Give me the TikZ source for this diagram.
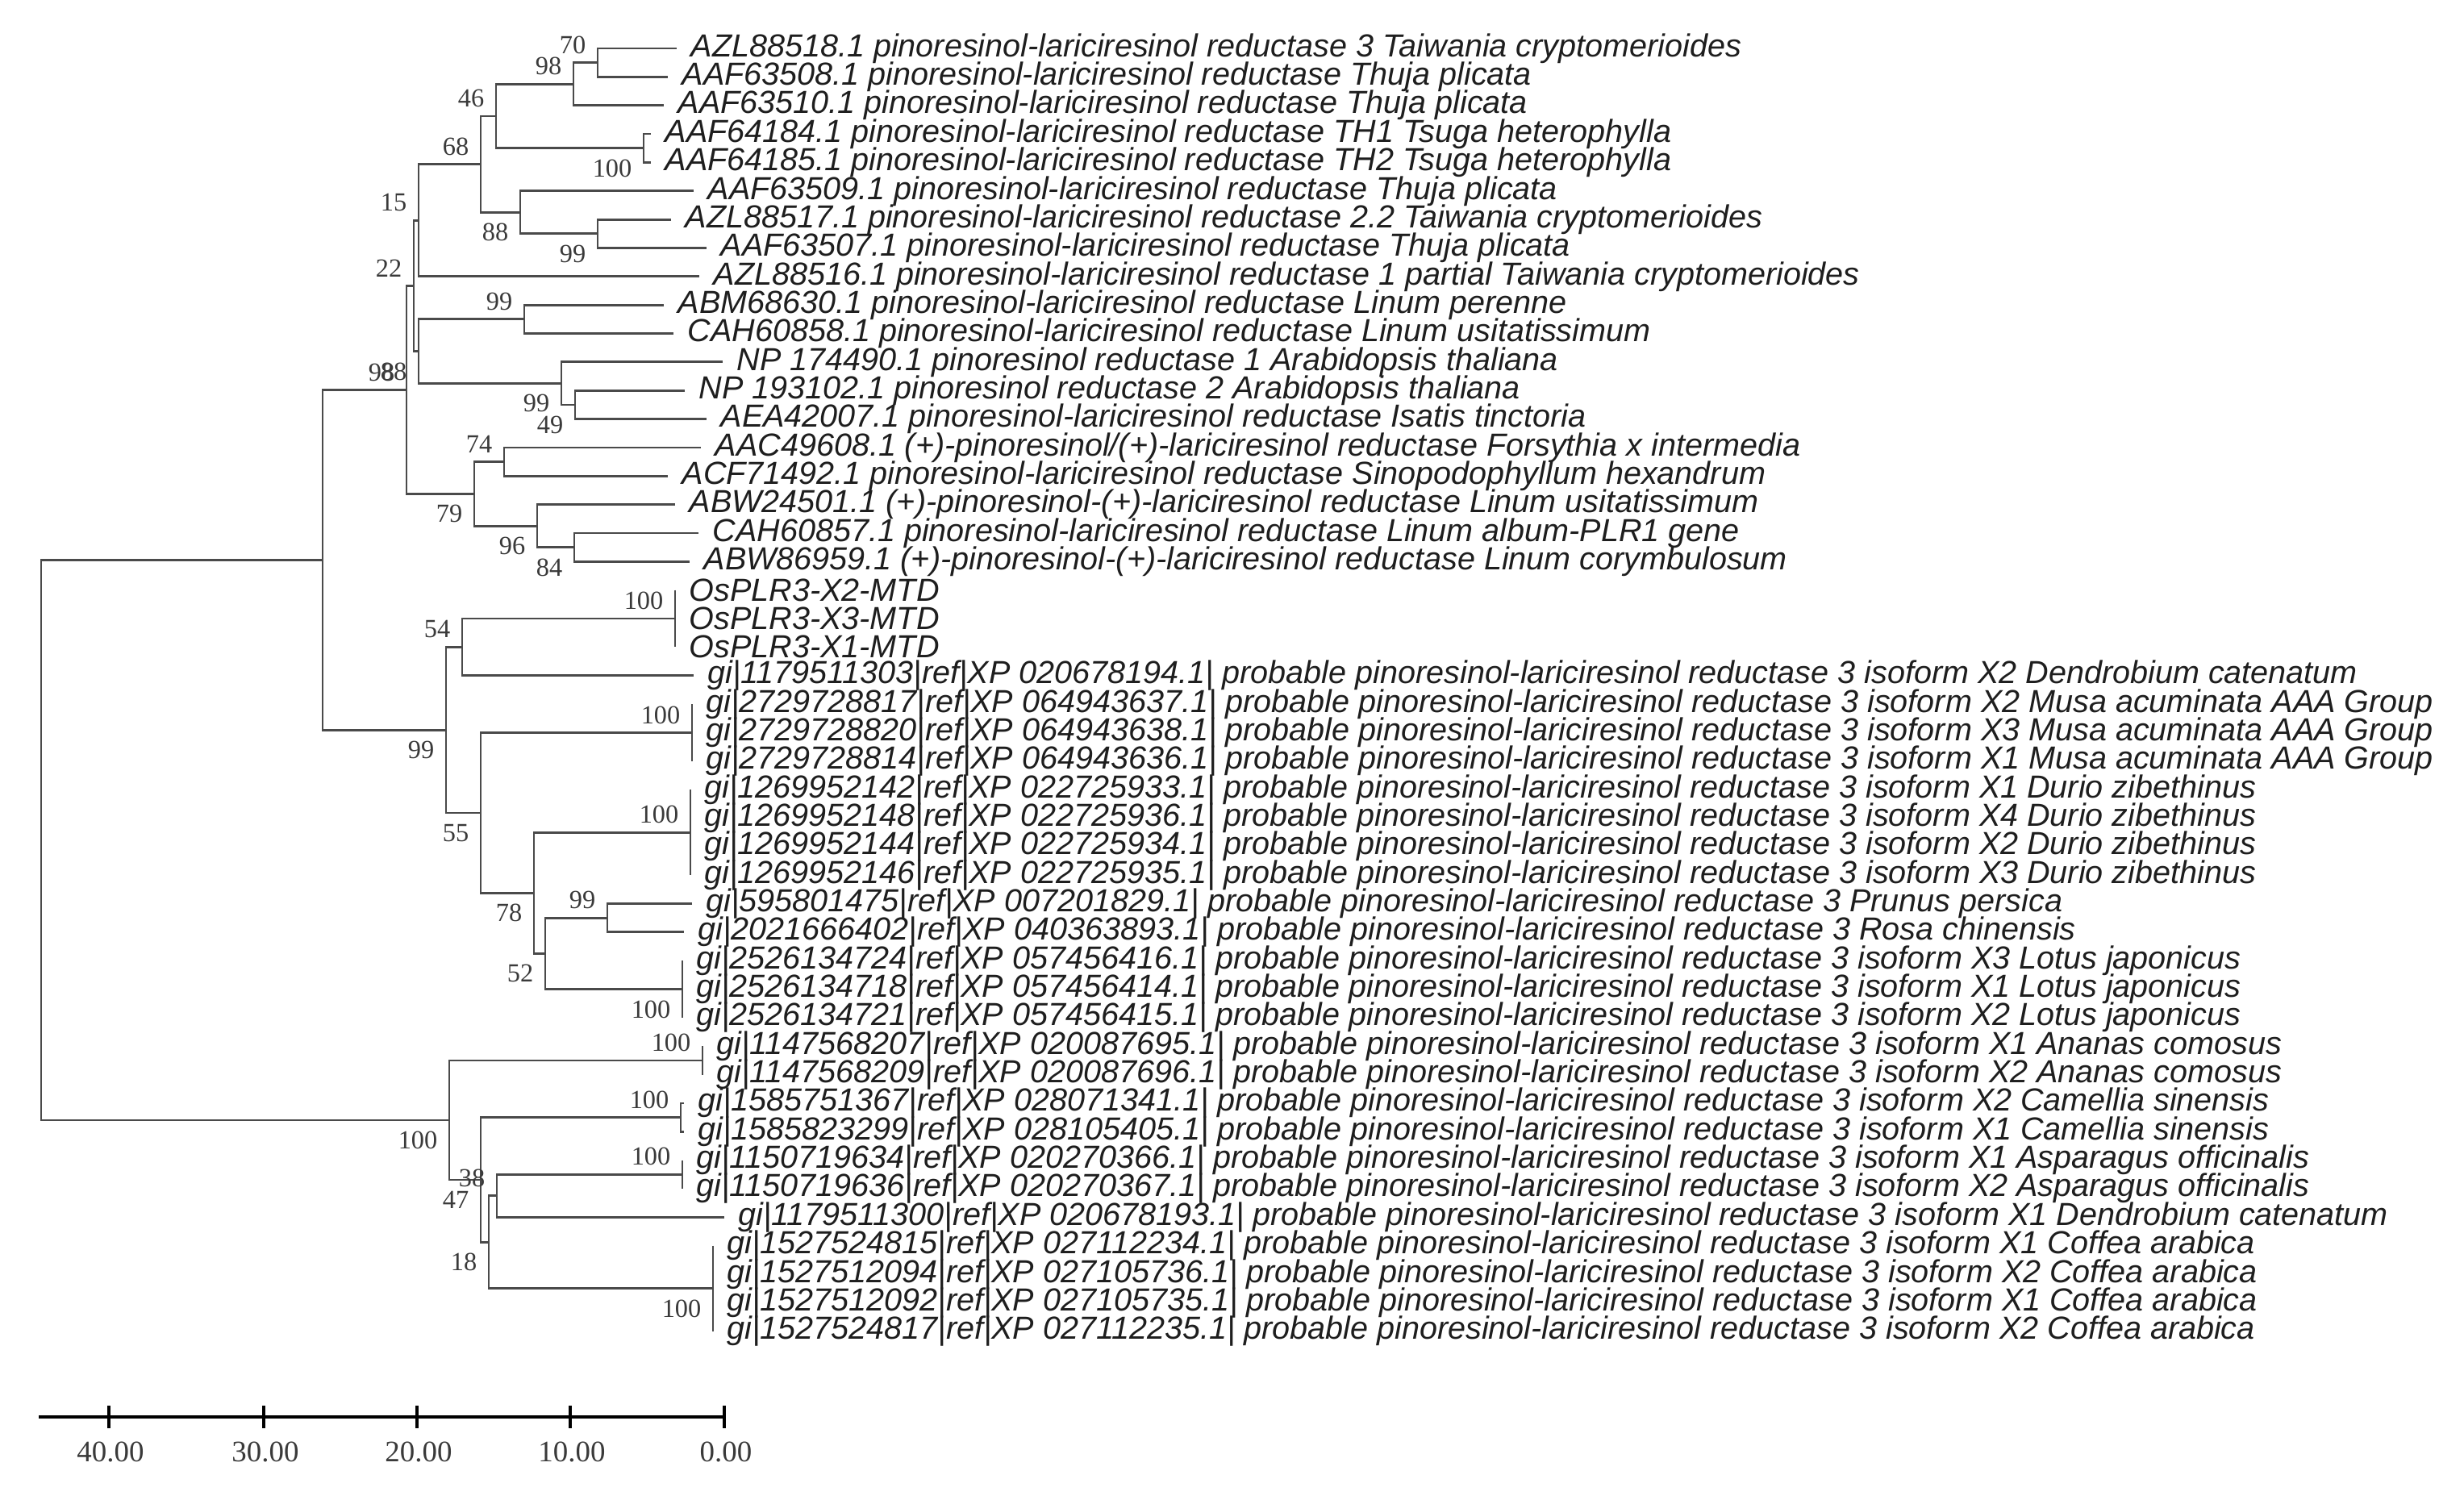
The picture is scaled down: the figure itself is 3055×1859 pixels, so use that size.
\documentclass[tikz,border=0pt]{standalone}
\usepackage{fontspec}
\setmainfont{Liberation Serif}
\setsansfont{Liberation Sans}
\usetikzlibrary{calc}
\definecolor{treeln}{HTML}{4A4A4A}
\definecolor{bsnum}{HTML}{3A3A3A}
\definecolor{lbl}{HTML}{1E1E1E}
\newcommand\pplr{probable pinoresinol-lariciresinol reductase 3}
\newcommand\plrr{pinoresinol-lariciresinol reductase}
\begin{document}
\begin{tikzpicture}[x=0.01cm,y=-0.01cm,
  br/.style={draw=treeln,line width=0.8pt},
  bsu/.style={font=\fontsize{9.2}{10}\selectfont,text=bsnum,inner sep=0pt,anchor=east},
  tx/.style={font=\sffamily\itshape\fontsize{11.25}{12}\selectfont,text=lbl,inner sep=0pt,anchor=west},
  sc/.style={font=\fontsize{10.5}{12}\selectfont,text=bsnum,inner sep=0pt},
  scl/.style={draw=black,line width=1pt}]
\useasboundingbox[fill=white] (0,0) rectangle (3055,1859);

% ---------- leaf tips ----------
\coordinate (t1) at (839,60.0);
\coordinate (t2) at (828,95.35);
\coordinate (t3) at (823,130.7);
\coordinate (t4) at (807,166.05);
\coordinate (t5) at (807,201.4);
\coordinate (t6) at (860,236.75);
\coordinate (t7) at (832,272.1);
\coordinate (t8) at (876,307.45);
\coordinate (t9) at (867,342.8);
\coordinate (t10) at (823,378.15);
\coordinate (t11) at (835,413.5);
\coordinate (t12) at (896,448.85);
\coordinate (t13) at (849,484.2);
\coordinate (t14) at (876,519.55);
\coordinate (t15) at (869,554.9);
\coordinate (t16) at (828,590.25);
\coordinate (t17) at (837,625.6);
\coordinate (t18) at (866,660.95);
\coordinate (t19) at (855,696.3);
\coordinate (t23) at (860,837.7);
\coordinate (t31) at (858,1120.5);
\coordinate (t32) at (848,1155.85);
\coordinate (t42) at (898,1509.35);
\coordinate (c38) at (848,1367.95);
\coordinate (c39) at (848,1403.3);

% ---------- zero-length groups ----------
\coordinate (gOsA) at (837,731.65);  \coordinate (gOsB) at (837,802.35);  \coordinate (gOs) at (837,767.0);
\coordinate (gMuA) at (858,873.05);  \coordinate (gMuB) at (858,943.75);  \coordinate (gMu) at (858,908.4);
\coordinate (gDuA) at (856,979.1);   \coordinate (gDuB) at (856,1085.15); \coordinate (gDu) at (856,1032.1);
\coordinate (gLoA) at (846,1191.2);  \coordinate (gLoB) at (846,1261.9);  \coordinate (gLo) at (846,1226.55);
\coordinate (gAnA) at (871,1297.25); \coordinate (gAnB) at (871,1332.6);  \coordinate (gAn) at (871,1314.9);
\coordinate (gCa) at (844,1385.6);
\coordinate (gAsA) at (846,1438.65); \coordinate (gAsB) at (846,1474.0);  \coordinate (gAs) at (846,1456.3);
\coordinate (gCoA) at (884,1544.7);  \coordinate (gCoB) at (884,1650.75); \coordinate (gCo) at (884,1597.7);

% ---------- internal nodes ----------
\coordinate (n70) at (741,77.7);
\coordinate (n98a) at (711,104.2);
\coordinate (n100a) at (798,183.7);
\coordinate (n46) at (615,143.9);
\coordinate (n99a) at (741,289.8);
\coordinate (n88a) at (645,263.3);
\coordinate (n68) at (596,203.6);
\coordinate (n15) at (519,273.2);
\coordinate (n99b) at (650,395.8);
\coordinate (n49) at (713,501.9);
\coordinate (n99c) at (696,475.4);
\coordinate (n88b) at (519,435.6);
\coordinate (n22) at (513,354.4);
\coordinate (n74) at (625,572.6);
\coordinate (n84) at (712,678.6);
\coordinate (n96) at (666,652.1);
\coordinate (n79) at (588,612.4);
\coordinate (n98b) at (504,483.4);
\coordinate (n54) at (573,802.4);
\coordinate (n99d) at (753,1138.2);
\coordinate (n52) at (676,1182.4);
\coordinate (n78) at (662,1107.3);
\coordinate (n55) at (596,1007.9);
\coordinate (n99e) at (553,905.1);
\coordinate (nIn) at (400,694.3);
\coordinate (n38) at (616,1482.8);
\coordinate (n18) at (606,1540.3);
\coordinate (n47) at (596,1463.0);
\coordinate (n100L) at (557,1389.0);
\coordinate (root) at (51,1041.6);

% ---------- branches ----------
\draw[br] (t1) -| (n70) |- (t2);
\draw[br] (n70) -| (n98a) |- (t3);
\draw[br] (t4) -| (n100a) |- (t5);
\draw[br] (n98a) -| (n46) |- (n100a);
\draw[br] (t7) -| (n99a) |- (t8);
\draw[br] (t6) -| (n88a) |- (n99a);
\draw[br] (n46) -| (n68) |- (n88a);
\draw[br] (n68) -| (n15) |- (t9);
\draw[br] (t10) -| (n99b) |- (t11);
\draw[br] (t13) -| (n49) |- (t14);
\draw[br] (t12) -| (n99c) |- (n49);
\draw[br] (n99b) -| (n88b) |- (n99c);
\draw[br] (n15) -| (n22) |- (n88b);
\draw[br] (t15) -| (n74) |- (t16);
\draw[br] (t18) -| (n84) |- (t19);
\draw[br] (t17) -| (n96) |- (n84);
\draw[br] (n74) -| (n79) |- (n96);
\draw[br] (n22) -| (n98b) |- (n79);
\draw[br] (gOsA) -- (gOsB);
\draw[br] (gOs) -| (n54) |- (t23);
\draw[br] (gMuA) -- (gMuB);
\draw[br] (gDuA) -- (gDuB);
\draw[br] (t31) -| (n99d) |- (t32);
\draw[br] (gLoA) -- (gLoB);
\draw[br] (n99d) -| (n52) |- (gLo);
\draw[br] (gDu) -| (n78) |- (n52);
\draw[br] (gMu) -| (n55) |- (n78);
\draw[br] (n54) -| (n99e) |- (n55);
\draw[br] (n98b) -| (nIn) |- (n99e);
\draw[br] (gAnA) -- (gAnB);
\draw[br] (c38) -| (gCa) |- (c39);
\draw[br] (gAsA) -- (gAsB);
\draw[br] (gAs) -| (n38) |- (t42);
\draw[br] (gCoA) -- (gCoB);
\draw[br] (n38) -| (n18) |- (gCo);
\draw[br] (gCa) -| (n47) |- (n18);
\draw[br] (gAn) -| (n100L) |- (n47);
\draw[br] (nIn) -| (root) |- (n100L);

% ---------- bootstrap values ----------
\node[bsu] (b70) at ($(n70)+(-14,-22)$) {70};
\node[bsu] (b98a) at ($(n98a)+(-14,-22)$) {98};
\node[bsu] (b100a) at ($(n100a)+(-14,25)$) {100};
\node[bsu] (b46) at ($(n46)+(-14,-22)$) {46};
\node[bsu] (b68) at ($(n68)+(-14,-22)$) {68};
\node[bsu] (b88a) at ($(n88a)+(-14,25)$) {88};
\node[bsu] (b99a) at ($(n99a)+(-14,25)$) {99};
\node[bsu] (b15) at ($(n15)+(-14,-22)$) {15};
\node[bsu] (b22) at ($(n22)+(-14,-22)$) {22};
\node[bsu] (b99b) at ($(n99b)+(-14,-22)$) {99};
\node[bsu] (b99c) at ($(n99c)+(-14,25)$) {99};
\node[bsu] (b49) at ($(n49)+(-14,25)$) {49};
\node[bsu] (b88b) at ($(n88b)+(-14,25)$) {88};
\node[bsu] (b98b) at ($(n98b)+(-14,-22)$) {98};
\node[bsu] (b74) at ($(n74)+(-14,-22)$) {74};
\node[bsu] (b79) at ($(n79)+(-14,25)$) {79};
\node[bsu] (b96) at ($(n96)+(-14,25)$) {96};
\node[bsu] (b84) at ($(n84)+(-14,25)$) {84};
\node[bsu] (bOs) at ($(gOs)+(-14,-22)$) {100};
\node[bsu] (b54) at ($(n54)+(-14,-22)$) {54};
\node[bsu] (b99e) at ($(n99e)+(-14,25)$) {99};
\node[bsu] (bMu) at ($(gMu)+(-14,-22)$) {100};
\node[bsu] (b55) at ($(n55)+(-14,25)$) {55};
\node[bsu] (bDu) at ($(gDu)+(-14,-22)$) {100};
\node[bsu] (b78) at ($(n78)+(-14,25)$) {78};
\node[bsu] (b99d) at ($(n99d)+(-14,-22)$) {99};
\node[bsu] (b52) at ($(n52)+(-14,25)$) {52};
\node[bsu] (bLo) at ($(gLo)+(-14,25)$) {100};
\node[bsu] (bAn) at ($(gAn)+(-14,-22)$) {100};
\node[bsu] (bCa) at ($(gCa)+(-14,-22)$) {100};
\node[bsu] (b100L) at ($(n100L)+(-14,25)$) {100};
\node[bsu] (bAs) at ($(gAs)+(-14,-22)$) {100};
\node[bsu] (b38) at ($(n38)+(-14,-22)$) {38};
\node[bsu] (b47) at ($(n47)+(-14,25)$) {47};
\node[bsu] (b18) at ($(n18)+(-14,25)$) {18};
\node[bsu] (bCo) at ($(gCo)+(-14,25)$) {100};

% ---------- leaf labels ----------
\node[tx] (l1) at ($(t1)+(17,0)$) {AZL88518.1 \plrr{} 3 Taiwania cryptomerioides};
\node[tx] (l2) at ($(t2)+(17,0)$) {AAF63508.1 \plrr{} Thuja plicata};
\node[tx] (l3) at ($(t3)+(17,0)$) {AAF63510.1 \plrr{} Thuja plicata};
\node[tx] (l4) at ($(t4)+(17,0)$) {AAF64184.1 \plrr{} TH1 Tsuga heterophylla};
\node[tx] (l5) at ($(t5)+(17,0)$) {AAF64185.1 \plrr{} TH2 Tsuga heterophylla};
\node[tx] (l6) at ($(t6)+(17,0)$) {AAF63509.1 \plrr{} Thuja plicata};
\node[tx] (l7) at ($(t7)+(17,0)$) {AZL88517.1 \plrr{} 2.2 Taiwania cryptomerioides};
\node[tx] (l8) at ($(t8)+(17,0)$) {AAF63507.1 \plrr{} Thuja plicata};
\node[tx] (l9) at ($(t9)+(17,0)$) {AZL88516.1 \plrr{} 1 partial Taiwania cryptomerioides};
\node[tx] (l10) at ($(t10)+(17,0)$) {ABM68630.1 \plrr{} Linum perenne};
\node[tx] (l11) at ($(t11)+(17,0)$) {CAH60858.1 \plrr{} Linum usitatissimum};
\node[tx] (l12) at ($(t12)+(17,0)$) {NP 174490.1 pinoresinol reductase 1 Arabidopsis thaliana};
\node[tx] (l13) at ($(t13)+(17,0)$) {NP 193102.1 pinoresinol reductase 2 Arabidopsis thaliana};
\node[tx] (l14) at ($(t14)+(17,0)$) {AEA42007.1 \plrr{} Isatis tinctoria};
\node[tx] (l15) at ($(t15)+(17,0)$) {AAC49608.1 (+)-pinoresinol/(+)-lariciresinol reductase Forsythia x intermedia};
\node[tx] (l16) at ($(t16)+(17,0)$) {ACF71492.1 \plrr{} Sinopodophyllum hexandrum};
\node[tx] (l17) at ($(t17)+(17,0)$) {ABW24501.1 (+)-pinoresinol-(+)-lariciresinol reductase Linum usitatissimum};
\node[tx] (l18) at ($(t18)+(17,0)$) {CAH60857.1 \plrr{} Linum album-PLR1 gene};
\node[tx] (l19) at ($(t19)+(17,0)$) {ABW86959.1 (+)-pinoresinol-(+)-lariciresinol reductase Linum corymbulosum};
\node[tx] (l20) at ($(gOsA)+(17,0)$) {OsPLR3-X2-MTD};
\node[tx] (l21) at ($(gOs)+(17,0)$) {OsPLR3-X3-MTD};
\node[tx] (l22) at ($(gOsB)+(17,0)$) {OsPLR3-X1-MTD};
\node[tx] (l23) at ($(t23)+(17,0)$) {gi|1179511303|ref|XP 020678194.1| \pplr{} isoform X2 Dendrobium catenatum};
\node[tx] (l24) at ($(gMuA)+(17,0)$) {gi|2729728817|ref|XP 064943637.1| \pplr{} isoform X2 Musa acuminata AAA Group};
\node[tx] (l25) at ($(gMu)+(17,0)$) {gi|2729728820|ref|XP 064943638.1| \pplr{} isoform X3 Musa acuminata AAA Group};
\node[tx] (l26) at ($(gMuB)+(17,0)$) {gi|2729728814|ref|XP 064943636.1| \pplr{} isoform X1 Musa acuminata AAA Group};
\node[tx] (l27) at ($(gDuA)+(17,0)$) {gi|1269952142|ref|XP 022725933.1| \pplr{} isoform X1 Durio zibethinus};
\node[tx] (l28) at ($(gDuA)+(17,35.35)$) {gi|1269952148|ref|XP 022725936.1| \pplr{} isoform X4 Durio zibethinus};
\node[tx] (l29) at ($(gDuB)+(17,-35.35)$) {gi|1269952144|ref|XP 022725934.1| \pplr{} isoform X2 Durio zibethinus};
\node[tx] (l30) at ($(gDuB)+(17,0)$) {gi|1269952146|ref|XP 022725935.1| \pplr{} isoform X3 Durio zibethinus};
\node[tx] (l31) at ($(t31)+(17,0)$) {gi|595801475|ref|XP 007201829.1| \pplr{} Prunus persica};
\node[tx] (l32) at ($(t32)+(17,0)$) {gi|2021666402|ref|XP 040363893.1| \pplr{} Rosa chinensis};
\node[tx] (l33) at ($(gLoA)+(17,0)$) {gi|2526134724|ref|XP 057456416.1| \pplr{} isoform X3 Lotus japonicus};
\node[tx] (l34) at ($(gLo)+(17,0)$) {gi|2526134718|ref|XP 057456414.1| \pplr{} isoform X1 Lotus japonicus};
\node[tx] (l35) at ($(gLoB)+(17,0)$) {gi|2526134721|ref|XP 057456415.1| \pplr{} isoform X2 Lotus japonicus};
\node[tx] (l36) at ($(gAnA)+(17,0)$) {gi|1147568207|ref|XP 020087695.1| \pplr{} isoform X1 Ananas comosus};
\node[tx] (l37) at ($(gAnB)+(17,0)$) {gi|1147568209|ref|XP 020087696.1| \pplr{} isoform X2 Ananas comosus};
\node[tx] (l38) at ($(c38)+(17,0)$) {gi|1585751367|ref|XP 028071341.1| \pplr{} isoform X2 Camellia sinensis};
\node[tx] (l39) at ($(c39)+(17,0)$) {gi|1585823299|ref|XP 028105405.1| \pplr{} isoform X1 Camellia sinensis};
\node[tx] (l40) at ($(gAsA)+(17,0)$) {gi|1150719634|ref|XP 020270366.1| \pplr{} isoform X1 Asparagus officinalis};
\node[tx] (l41) at ($(gAsB)+(17,0)$) {gi|1150719636|ref|XP 020270367.1| \pplr{} isoform X2 Asparagus officinalis};
\node[tx] (l42) at ($(t42)+(17,0)$) {gi|1179511300|ref|XP 020678193.1| \pplr{} isoform X1 Dendrobium catenatum};
\node[tx] (l43) at ($(gCoA)+(17,0)$) {gi|1527524815|ref|XP 027112234.1| \pplr{} isoform X1 Coffea arabica};
\node[tx] (l44) at ($(gCoA)+(17,35.35)$) {gi|1527512094|ref|XP 027105736.1| \pplr{} isoform X2 Coffea arabica};
\node[tx] (l45) at ($(gCoB)+(17,-35.35)$) {gi|1527512092|ref|XP 027105735.1| \pplr{} isoform X1 Coffea arabica};
\node[tx] (l46) at ($(gCoB)+(17,0)$) {gi|1527524817|ref|XP 027112235.1| \pplr{} isoform X2 Coffea arabica};

% ---------- scale bar ----------
\coordinate (sbL) at (48,1757);
\coordinate (sbR) at (899,1757);
\draw[scl] (sbL) -- (sbR);
\foreach \xx/\lab/\nm in {135/40.00/k40, 327/30.00/k30, 517/20.00/k20, 707/10.00/k10, 898/0.00/k0}{
  \coordinate (\nm a) at (\xx,1743);
  \coordinate (\nm b) at (\xx,1771);
  \draw[scl] (\nm a) -- (\nm b);
  \node[sc] (\nm t) at (\xx+2,1800) {\lab};
}
\end{tikzpicture}
\end{document}
